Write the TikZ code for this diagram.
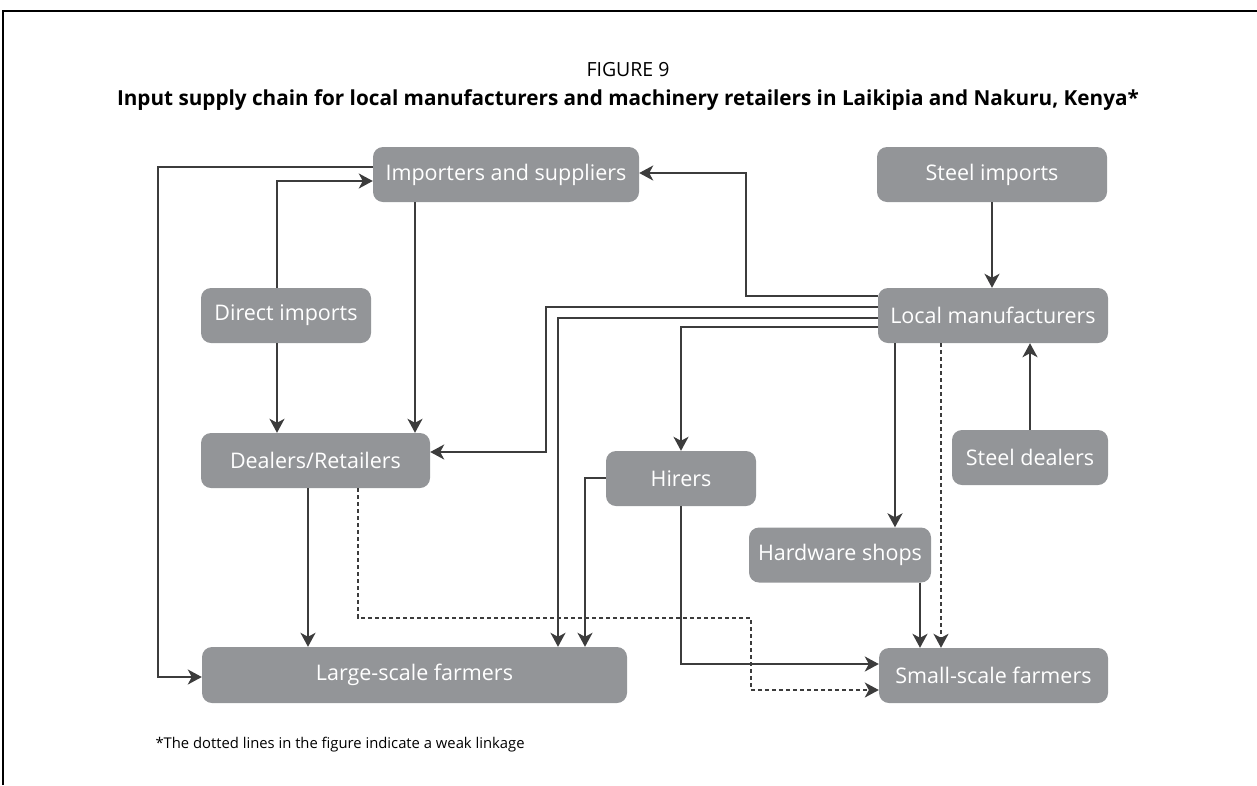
\documentclass[tikz,border=0pt]{standalone}
\usepackage{fontspec}
\setmainfont{Open Sans}
\usetikzlibrary{positioning,arrows.meta,calc}
\definecolor{boxgray}{HTML}{939598}
\definecolor{linegray}{HTML}{3C3C3C}
\tikzset{>={Stealth[length=14pt,width=15pt,inset=4pt]}}

\begin{document}
\begin{tikzpicture}[x=1pt,y=-1pt]
          \tikzstyle{bnode} = [fill=boxgray, rounded corners=10pt, text=white, font=\fontsize{21.5}{24}\selectfont, inner sep=0pt, minimum height=55pt]
          \tikzstyle{link} = [->, draw=linegray, line width=2pt]
          \tikzstyle{weak} = [link, dash pattern=on 4pt off 3pt, line width=1.8pt]
          \useasboundingbox (0,0) rectangle (1257,785);
          \draw[line width=1.5pt] (3,785) -- (3,11) -- (1257,11);

          \node[font=\fontsize{19.5}{22}\selectfont] (fig) at (628,70) {FIGURE 9};
          \node[font=\bfseries\fontsize{20.7}{24}\selectfont] (title) at (628,100) {Input supply chain for local manufacturers and machinery retailers in Laikipia and Nakuru, Kenya*};

          \node[bnode, minimum width=266pt] (imp) at (506,174.5) {Importers and suppliers};
          \node[bnode, minimum width=230pt] (steel) at (992,174.5) {Steel imports};
          \node[bnode, minimum width=170pt] (direct) at (286,315.5) {Direct imports};
          \node[bnode, minimum width=230pt] (lm) at (993,315.5) {Local manufacturers};
          \node[bnode, minimum width=229pt] (deal) at (315.5,460.5) {Dealers/Retailers};
          \node[bnode, minimum width=150pt] (hire) at (681,478.5) {Hirers};
          \node[bnode, minimum width=156pt] (sdeal) at (1030,457.5) {Steel dealers};
          \node[bnode, minimum width=182pt] (hw) at (840,555) {Hardware shops};
          \node[bnode, minimum width=425pt, minimum height=56pt] (large) at (414.5,675) {Large-scale farmers};
          \node[bnode, minimum width=229pt] (small) at (993.5,675.5) {Small-scale farmers};

          \node[anchor=west, font=\fontsize{14.8}{17}\selectfont] (note) at (152,745) {*The dotted lines in the figure indicate a weak linkage};

          \draw[link] (imp.west |- 0,167) -| (158,677) -- (large.west |- 0,677);
          \draw[link] (direct.north -| 277,0) |- (imp.west |- 0,181);
          \draw[link] (direct.south -| 277,0) -- (deal.north -| 277,0);
          \draw[link] (imp.south -| 415,0) -- (deal.north -| 415,0);
          \draw[link] (lm.west |- 0,296) -| (746,173) -- (imp.east |- 0,173);
          \draw[link] (lm.west |- 0,307) -| (546,452) -- (deal.east |- 0,452);
          \draw[link] (lm.west |- 0,318) -| (large.north -| 558,0);
          \draw[link] (lm.west |- 0,327) -| (hire.north -| 681,0);
          \draw[link] (lm.south -| 895,0) -- (hw.north -| 895,0);
          \draw[weak] (lm.south -| 941,0) -- (small.north -| 941,0);
          \draw[link] (steel.south -| 992,0) -- (lm.north -| 992,0);
          \draw[link] (sdeal.north -| 1030,0) -- (lm.south -| 1030,0);
          \draw[link] (hire.west |- 0,478) -| (large.north -| 585,0);
          \draw[link] (hire.south -| 681,0) |- (small.west |- 0,664);
          \draw[link] (hw.south -| 920,0) -- (small.north -| 920,0);
          \draw[link] (deal.south -| 308,0) -- (large.north -| 308,0);
          \draw[weak] (deal.south -| 358,0) |- (751,618) |- (small.west |- 0,690);
        \end{tikzpicture}
\end{document}
